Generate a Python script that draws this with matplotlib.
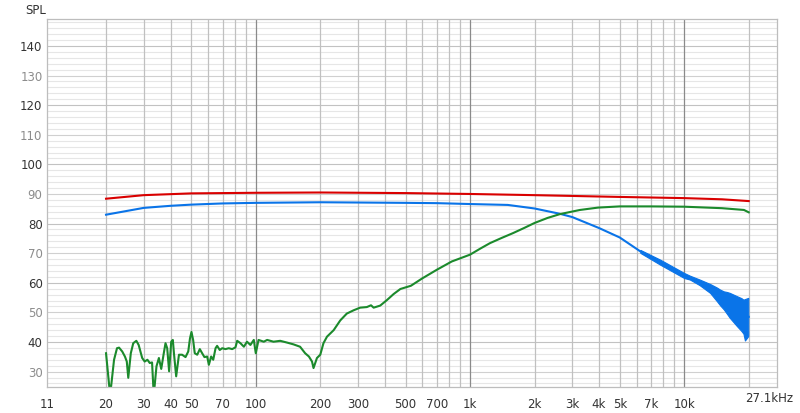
import numpy as np
import matplotlib
matplotlib.use("Agg")
import matplotlib.pyplot as plt

# values (Hz, dB SPL)
red_f = [20, 30, 50, 100, 200, 500, 1000, 2000, 5000, 10000, 15000, 20000]
red_db = [88.4, 89.6, 90.2, 90.4, 90.5, 90.3, 90.0, 89.6, 89.0, 88.6, 88.2, 87.6]

blue_f = [20, 30, 40, 50, 70, 100, 200, 500, 700, 1000, 1500, 2000, 2630, 3000,
          4000, 5000, 6240, 7730, 10000, 11800, 13200, 14700, 16300, 17600, 18900, 20000]
blue_db = [83.0, 85.3, 86.0, 86.4, 86.8, 87.0, 87.2, 87.0, 86.9, 86.6, 86.3, 85.1, 83.3, 82.2,
           78.5, 75.3, 70.6, 67.0, 62.2, 60.1, 58.1, 55.8, 52.4, 50.4, 48.5, 48.5]

# spread of the noisy blue trace at the top end
noise_f = [6240, 7730, 10000, 10630, 11800, 13200, 14200, 14700, 15300, 15800, 16300,
           17600, 18500, 18900, 19200, 19900]
noise_hi = [71.1, 67.8, 63.3, 62.4, 61.1, 59.6, 58.4, 57.7, 57.1, 56.9, 56.6,
            55.5, 54.8, 54.3, 54.5, 54.9]
noise_lo = [70.1, 66.1, 61.6, 61.1, 59.2, 56.6, 53.8, 52.4, 51.0, 49.6, 48.2,
            45.4, 43.7, 42.8, 40.5, 42.0]

green_f = [20, 20.9, 21.8, 22.5, 23.0, 23.8, 24.5, 25.0, 25.4, 26.1, 26.8, 27.7, 28.4,
           29.5, 30.3, 31.2, 32.0, 32.8, 33.4, 34.4, 35.3, 36.2, 37.2, 37.9, 38.6, 39.4,
           40.3, 41.0, 41.5, 42.5, 43.8, 45.3, 47.0, 48.4, 49.3, 50.1, 51.0, 51.9, 53.3,
           54.8, 56.2, 57.6, 59.3, 60.4, 61.9, 63.3, 64.9, 66.0, 67.9, 69.7, 72.2, 74.8,
           77.6, 80.4, 81.9, 84.8, 88, 91, 94.4, 97.9, 100, 103, 109, 113, 121, 130, 140,
           150, 161, 170, 177, 183, 186, 193, 200, 207, 215, 231, 248, 266, 286, 307, 330,
           345, 355, 381, 410, 440, 473, 530, 596, 700, 822, 1000, 1120, 1240, 1400, 1590,
           1800, 2000, 2300, 2630, 3260, 3960, 5000, 7000, 10000, 15000, 19000, 20000]
green_db = [36.2, 22.0, 34.0, 37.9, 38.1, 36.8, 35.1, 33.4, 27.9, 36.2, 39.6, 40.4, 39.0,
            34.6, 33.4, 34.0, 32.9, 33.1, 22.0, 31.8, 34.6, 30.9, 36.2, 39.6, 37.9, 30.1,
            40.1, 40.7, 36.2, 28.4, 35.7, 35.7, 34.9, 36.8, 41.2, 43.4, 40.7, 36.2, 35.7,
            37.6, 36.2, 34.9, 35.1, 32.3, 35.1, 34.0, 37.9, 38.7, 37.3, 37.9, 37.6, 37.9,
            37.6, 38.2, 40.4, 39.6, 38.4, 40.1, 39.0, 40.7, 36.2, 40.7, 40.1, 40.7, 40.1, 40.4, 39.8,
            39.2, 38.4, 36.2, 35.1, 33.4, 31.2, 34.6, 35.7, 39.6, 41.8, 44.0, 47.3, 49.6, 50.7, 51.6, 51.8,
            52.4, 51.6, 52.3, 54.2, 56.2, 57.9, 59.0, 61.4, 64.4, 67.2, 69.5, 71.6, 73.4, 75.1, 76.8,
            78.6, 80.2, 81.9, 83.2, 84.6, 85.4, 85.8, 85.8, 85.7, 85.2, 84.6, 83.8]

x_ticks = [10.57, 20, 30, 40, 50, 70, 100, 200, 300, 500, 700, 1000, 2000, 3000, 4000, 5000, 7000, 10000]
x_labels = ["11", "20", "30", "40", "50", "70", "100", "200", "300", "500", "700",
            "1k", "2k", "3k", "4k", "5k", "7k", "10k"]
y_ticks = [30, 40, 50, 60, 70, 80, 90, 100, 110, 120, 130, 140]

fig = plt.figure(figsize=(8, 4.13), dpi=100)
ax = fig.add_axes([46.7 / 800, 1 - 387 / 413, (777 - 46.7) / 800, (387 - 19) / 413])
ax.set_xscale("log")
ax.set_xlim(10.57, 27100)
ax.set_ylim(24.8, 149.1)

# grid
for v in np.arange(26, 149, 2):
    if v % 20 == 0:
        c = "#c2c2c2"
    elif v % 10 == 0:
        c = "#d0d0d0"
    else:
        c = "#e6e6e6"
    ax.axhline(v, color=c, lw=0.8, zorder=0)
for dec in [10, 100, 1000, 10000]:
    for m in range(1, 10):
        f = dec * m
        if f <= 10.57 or f > 20000:
            continue
        ax.axvline(f, color="#8a8a8a" if m == 1 else "#c0c0c0", lw=0.9, zorder=0.5)

ax.plot(red_f, red_db, color="#d90000", lw=1.5, zorder=3)
ax.fill_between(noise_f, noise_lo, noise_hi, color="#0a74e8", lw=0.8, zorder=2)
ax.plot(blue_f, blue_db, color="#0a74e8", lw=1.5, zorder=2)
ax.plot(green_f, green_db, color="#1b8a2c", lw=1.5, zorder=2.5)

for s in ax.spines.values():
    s.set_color("#bdbdbd")
    s.set_linewidth(0.9)

ax.set_xticks(x_ticks)
ax.set_xticklabels(x_labels)
ax.xaxis.set_minor_locator(matplotlib.ticker.NullLocator())
ax.set_yticks(y_ticks)
ax.set_yticklabels([str(v) for v in y_ticks])
ax.tick_params(axis="both", length=0, labelsize=8.5, colors="#333333")
ax.tick_params(axis="x", pad=8)
ax.tick_params(axis="y", pad=3)
for lab, v in zip(ax.get_yticklabels(), y_ticks):
    lab.set_color("#333333" if v % 20 == 0 else "#8c8c8c")

fig.text(25 / 800, 1 - 11 / 413, "SPL", fontsize=8.5, color="#333333", va="center", ha="left")
fig.text(793 / 800, 1 - 399 / 413, "27.1kHz", fontsize=8.5, color="#333333", va="center", ha="right")

fig.savefig("out.png", dpi=100)
